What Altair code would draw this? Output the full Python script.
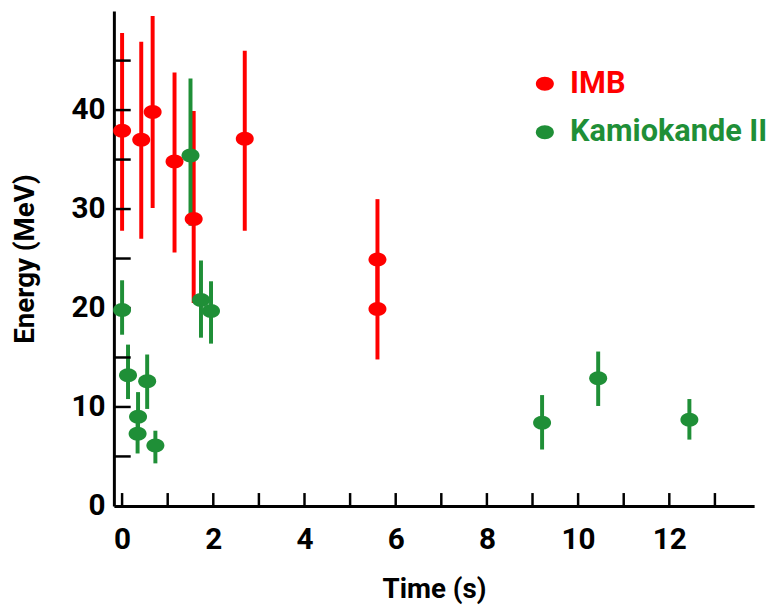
import altair as alt
import pandas as pd

# ---- data ----
series_names = ["IMB", "Kamiokande II"]
series_colors = ["#ff0000", "#1f8f37"]

imb_t = [0.0, 0.42, 0.67, 1.15, 1.57, 2.69, 5.6, 5.6]
imb_e = [37.9, 37.0, 39.8, 34.8, 29.0, 37.1, 24.9, 19.9]
imb_lo = [27.8, 27.0, 30.1, 25.6, 20.5, 27.8, 19.9, 14.8]
imb_hi = [47.8, 46.9, 49.5, 43.8, 39.9, 46.0, 31.0, 24.9]

kam_t = [0.0, 0.13, 0.34, 0.35, 0.55, 0.73, 1.50, 1.73, 1.95, 9.21, 10.44, 12.44]
kam_e = [19.8, 13.2, 7.3, 9.0, 12.6, 6.1, 35.4, 20.8, 19.7, 8.4, 12.9, 8.7]
kam_lo = [17.3, 10.8, 5.3, 7.0, 9.8, 4.3, 28.3, 17.0, 16.4, 5.7, 10.1, 6.7]
kam_hi = [22.8, 16.3, 9.3, 11.5, 15.3, 7.6, 43.2, 24.8, 22.7, 11.2, 15.6, 10.8]

x_label_values = [0, 2, 4, 6, 8, 10, 12]
x_tick_values = list(range(0, 14))
y_label_values = [0, 10, 20, 30, 40]
y_tick_values = [5, 10, 15, 20, 25, 30, 35, 40, 45]

# ---- build tables ----
df = pd.concat([
    pd.DataFrame({"t": imb_t, "e": imb_e, "lo": imb_lo, "hi": imb_hi, "series": series_names[0]}),
    pd.DataFrame({"t": kam_t, "e": kam_e, "lo": kam_lo, "hi": kam_hi, "series": series_names[1]}),
], ignore_index=True)
xt = pd.DataFrame({"t": x_tick_values})
yt = pd.DataFrame({"e": y_tick_values})

FONT = "Roboto"
W, H = 647, 500
ELLIPSE = "M -1 0 A 1 0.78 0 1 0 1 0 A 1 0.78 0 1 0 -1 0 Z"

xscale = alt.Scale(domain=[-0.18, 13.86], nice=False, zero=False)
yscale = alt.Scale(domain=[0, 50], nice=False, zero=False)

xaxis = alt.Axis(values=x_label_values, title="Time (s)", grid=False, ticks=False,
                 tickSize=0, labelPadding=19, labelFontSize=30, labelFont=FONT,
                 labelFontWeight="bold", labelColor="black", domainColor="black",
                 domainWidth=3, titleFont=FONT, titleFontSize=28, titleFontWeight="bold",
                 titleColor="black", titlePadding=22)
yaxis = alt.Axis(values=y_label_values, title="Energy (MeV)", grid=False, ticks=False,
                 tickSize=0, labelPadding=9, labelFontSize=30, labelFont=FONT,
                 labelFontWeight="bold", labelColor="black", domainColor="black",
                 domainWidth=3, titleFont=FONT, titleFontSize=28, titleFontWeight="bold",
                 titleColor="black", titlePadding=32)

color_scale = alt.Scale(domain=series_names, range=series_colors)
legend = alt.Legend(
    title=None, orient="none", legendX=420, legendY=58,
    symbolType=ELLIPSE, symbolSize=330, symbolStrokeWidth=0,
    labelFont=FONT, labelFontSize=31, labelFontWeight="bold",
    labelColor=alt.ExprRef("datum.label == 'IMB' ? '#ff0000' : '#1f8f37'"),
    labelLimit=400, labelOffset=10, rowPadding=17,
)
color_enc = alt.Color("series:N", scale=color_scale, legend=legend)

x_enc = alt.X("t:Q", scale=xscale, axis=xaxis)

bars = alt.Chart(df).mark_rule(strokeWidth=4).encode(
    x=x_enc,
    y=alt.Y("lo:Q", scale=yscale, axis=yaxis),
    y2="hi:Q",
    color=color_enc,
)

points = alt.Chart(df).mark_point(filled=True, size=330, opacity=1, shape=ELLIPSE).encode(
    x=x_enc,
    y=alt.Y("e:Q", scale=yscale, axis=yaxis),
    color=color_enc,
)

xticks = alt.Chart(xt).mark_rule(color="black", strokeWidth=2.5).encode(
    x=x_enc,
    y=alt.value(H - 13),
    y2=alt.value(H),
)

yticks = alt.Chart(yt).mark_rule(color="black", strokeWidth=2.5).encode(
    y=alt.Y("e:Q", scale=yscale, axis=yaxis),
    x=alt.value(0),
    x2=alt.value(17),
)

chart = alt.layer(bars, xticks, yticks, points).properties(
    width=W, height=H,
    autosize=alt.AutoSizeParams(type="none"),
    padding={"left": 107, "top": 0, "right": 13, "bottom": 100},
    background="white",
).configure_view(strokeWidth=0, stroke="transparent")

chart.save("out.html", embed_options={"renderer": "svg", "actions": False})
